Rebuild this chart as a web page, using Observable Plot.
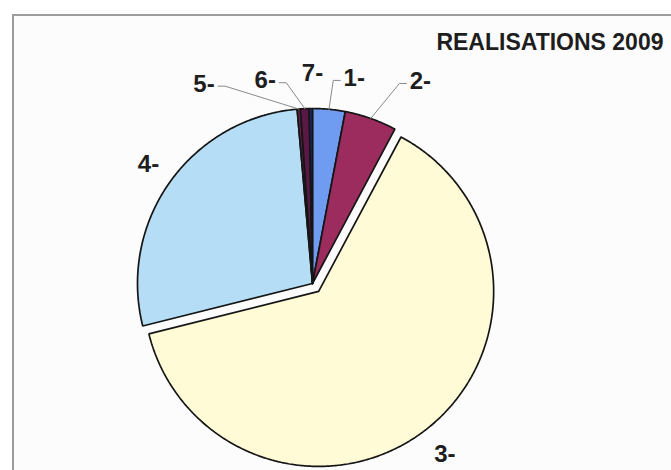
<!DOCTYPE html>
<html>
<head>
<meta charset="utf-8">
<script src="https://cdn.jsdelivr.net/npm/d3@7"></script>
<script src="https://cdn.jsdelivr.net/npm/@observablehq/plot@0.6"></script>
<style>
  html, body { margin: 0; padding: 0; background: #ffffff; }
  #chart { width: 671px; height: 470px; overflow: hidden; }
  svg { display: block; }
</style>
</head>
<body>
<div id="chart"></div>
<script>
// ---- data ----
const categories = ["1-", "2-", "3-", "4-", "5-", "6-", "7-"];
const values = [3.0, 4.8, 63.3, 27.5, 0.3, 0.8, 0.3];
const title = "REALISATIONS 2009";

// ---- styles / layout (not data) ----
const palette = ["#6f9cf1", "#9b2c5d", "#fffbd6", "#b6ddf6", "#6a2050", "#5a1846", "#1d2a6e"];
const W = 671, H = 470;
const layout = {
  cx: 312, cy: 283, r: 175,
  explode: {"3-": 10},
  labelR: 210,
  labelNudge: {"1-": [22, 4], "2-": [38, -4], "3-": [-3, -3], "4-": [7, 3], "5-": [-92, 10], "6-": [-38, 7], "7-": [2, 0]},
  leaders: ["1-", "2-", "5-", "6-"],
  frame: {x: 13, y: 15},
  titlePos: {x: 663, y: 42}
};

const font = "'Liberation Sans', Arial, Helvetica, sans-serif";

// pie angles, clockwise from 12 o'clock (Excel style)
const arcs = d3.pie().sort(null).value(d => d.value)(
  categories.map((c, i) => ({key: c, value: values[i], color: palette[i]}))
);

const deg = Math.PI / 180;
const polygons = [];
const labels = [];
const leaderPts = [];
for (const a of arcs) {
  const k = a.data.key;
  const mid = (a.startAngle + a.endAngle) / 2;
  const ex = layout.explode[k] || 0;
  const ox = layout.cx + ex * Math.sin(mid);
  const oy = layout.cy - ex * Math.cos(mid);
  polygons.push({key: k, color: a.data.color, x: ox, y: oy});
  const n = Math.max(2, Math.ceil((a.endAngle - a.startAngle) / (0.5 * deg)));
  for (let i = 0; i <= n; i++) {
    const t = a.startAngle + (a.endAngle - a.startAngle) * i / n;
    polygons.push({key: k, color: a.data.color, x: ox + layout.r * Math.sin(t), y: oy - layout.r * Math.cos(t)});
  }
  polygons.push({key: k, color: a.data.color, x: ox, y: oy});
  const nud = layout.labelNudge[k] || [0, 0];
  const lx = ox + layout.labelR * Math.sin(mid) + nud[0];
  const ly = oy - layout.labelR * Math.cos(mid) + nud[1];
  labels.push({key: k, x: lx, y: ly});
  if (layout.leaders.includes(k)) {
    const exX = ox + layout.r * Math.sin(mid);
    const exY = oy - layout.r * Math.cos(mid);
    const side = exX < lx ? -1 : 1;
    const sx = lx + side * 14;
    const sy = ly + 2;
    leaderPts.push({key: k, x: sx, y: sy});
    leaderPts.push({key: k, x: sx + side * 7, y: sy});
    leaderPts.push({key: k, x: exX, y: exY});
  }
}

const plot = Plot.plot({
  width: W,
  height: H,
  margin: 0,
  style: {background: "#ffffff", fontFamily: font, overflow: "hidden"},
  x: {type: "linear", domain: [0, W], range: [0, W], axis: null},
  y: {type: "linear", domain: [0, H], range: [0, H], axis: null},
  color: {type: "identity"},
  marks: [
    // chart area background + border
    Plot.rect([layout.frame], {x1: d => d.x, y1: d => d.y, x2: W + 5, y2: H + 5, fill: "#fcfcfc", stroke: "#9c9c9c", strokeWidth: 2}),
    // slices
    Plot.line(polygons, {x: "x", y: "y", z: "key", fill: "color", stroke: "#151515", strokeWidth: 1.7, strokeLinejoin: "miter"}),
    // leader lines
    Plot.line(leaderPts, {x: "x", y: "y", z: "key", stroke: "#8a8a8a", strokeWidth: 1}),
    // labels
    Plot.text(labels, {x: "x", y: "y", text: "key", fontSize: 24, fontWeight: "bold", fill: "#1e1e1e", fontFamily: font}),
    // title
    Plot.text([title], {x: layout.titlePos.x, y: layout.titlePos.y, text: d => d, textAnchor: "end", fontSize: 23, fontWeight: "bold", fill: "#1e1e1e", fontFamily: font})
  ]
});
document.getElementById("chart").appendChild(plot);
</script>
</body>
</html>
